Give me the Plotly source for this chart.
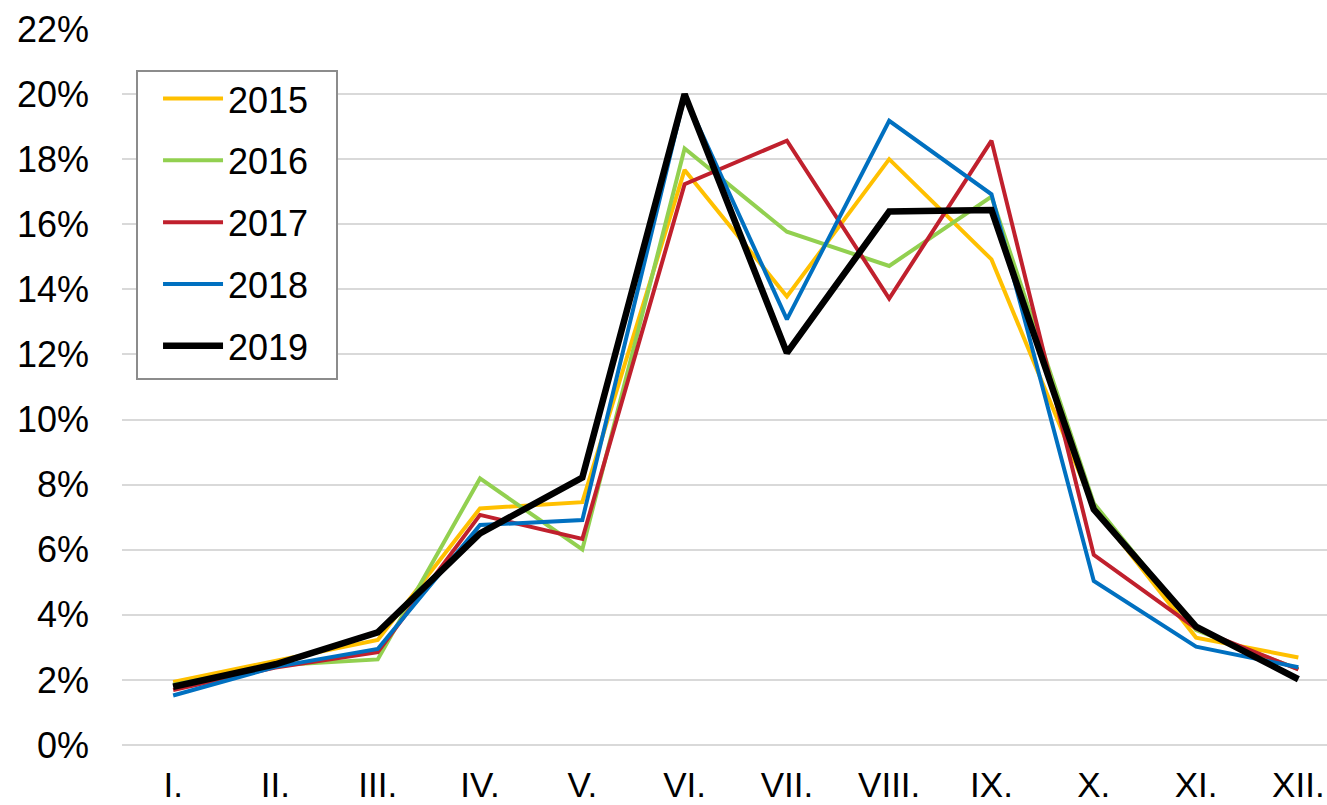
import plotly.graph_objects as go

months = ["I.", "II.", "III.", "IV.", "V.", "VI.", "VII.", "VIII.", "IX.", "X.", "XI.", "XII."]
years = ["2015", "2016", "2017", "2018", "2019"]

v2015 = [1.94, 2.58, 3.23, 7.27, 7.46, 17.67, 13.78, 18.00, 14.92, 7.30, 3.30, 2.69]
v2016 = [1.85, 2.45, 2.63, 8.19, 6.01, 18.33, 15.77, 14.72, 16.85, 7.43, 3.53, 2.33]
v2017 = [1.69, 2.38, 2.85, 7.07, 6.33, 17.23, 18.57, 13.72, 18.57, 5.84, 3.58, 2.32]
v2018 = [1.52, 2.40, 2.95, 6.76, 6.91, 19.95, 13.08, 19.18, 16.92, 5.04, 3.02, 2.39]
v2019 = [1.79, 2.48, 3.46, 6.50, 8.22, 20.00, 12.05, 16.39, 16.44, 7.24, 3.64, 2.02]

series = [v2015, v2016, v2017, v2018, v2019]
colors = ["#FFC000", "#92D050", "#C0202D", "#0070C0", "#000000"]
widths = [4, 4, 4, 4, 6.5]

FONT = "Liberation Sans, Arial, sans-serif"

fig = go.Figure()
for name, vals, c, w in zip(years, series, colors, widths):
    fig.add_trace(go.Scatter(
        x=list(range(len(months))), y=[v / 100 for v in vals],
        mode="lines", name=name, legendgroup=name,
        line=dict(color=c, width=w),
    ))

fig.update_layout(
    width=1327, height=805,
    margin=dict(l=122, r=0, t=29, b=60, autoexpand=False),
    plot_bgcolor="white", paper_bgcolor="white",
    font=dict(family=FONT, size=36, color="black"),
    showlegend=True,
    legend=dict(
        x=0.0299, y=0.9446, xanchor="left", yanchor="top",
        bgcolor="rgba(0,0,0,0)", borderwidth=0,
        font=dict(family=FONT, size=36, color="black"),
        tracegroupgap=12, itemwidth=60,
    ),
    shapes=[dict(
        type="rect", xref="paper", yref="paper",
        x0=(137 - 122) / 1205, x1=(337 - 122) / 1205,
        y0=1 - (379 - 29) / 716, y1=1 - (71 - 29) / 716,
        line=dict(color="#8C8C8C", width=2), fillcolor="white", layer="above",
    )],
)

fig.update_xaxes(
    range=[-0.5, 11.28],
    tickmode="array", tickvals=list(range(len(months))), ticktext=months,
    showgrid=False, showline=False, zeroline=False, ticks="",
    tickfont=dict(family=FONT, size=35, color="black"),
    ticklabelstandoff=16, automargin=False,
)
fig.update_yaxes(
    range=[0, 0.22], dtick=0.02, tick0=0, tickformat=".0%",
    showgrid=True, gridcolor="#D9D9D9", gridwidth=2,
    zeroline=True, zerolinecolor="#D9D9D9", zerolinewidth=2,
    showline=False, ticks="",
    tickfont=dict(family=FONT, size=36, color="black"),
    ticklabelstandoff=32, automargin=False,
)

fig.write_html(
    "out.html",
    config={"displayModeBar": False},
    post_script="document.body.style.margin='0';document.body.style.overflow='hidden';",
)
